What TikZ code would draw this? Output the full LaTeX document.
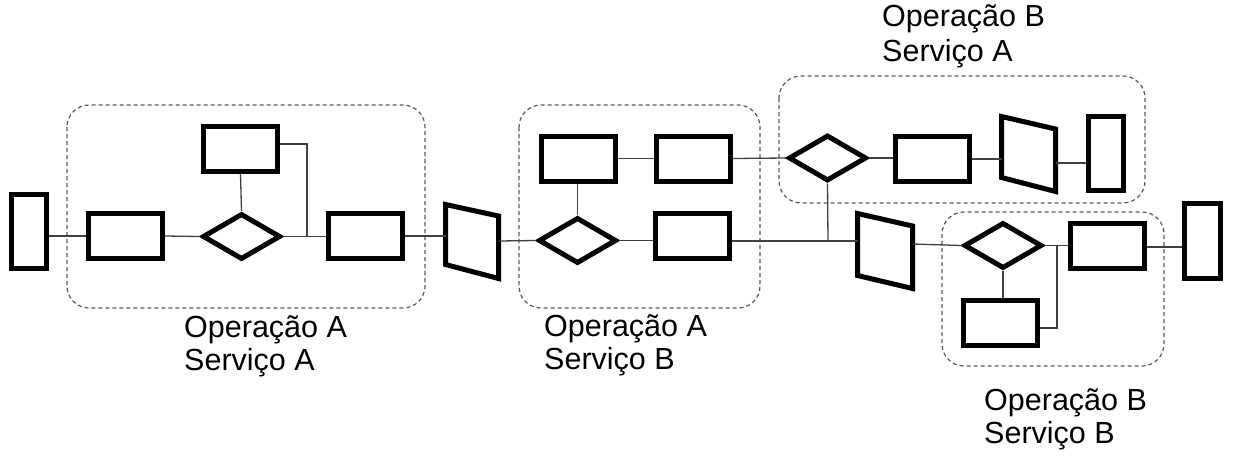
\documentclass[tikz,border=0pt]{standalone}
\usepackage{fontspec}
\setmainfont{Liberation Sans}
\usetikzlibrary{shapes.geometric}
\begin{document}
\begin{tikzpicture}[x=1pt,y=-1pt,
  box/.style={draw=black,line width=5pt,fill=white,inner sep=0pt,minimum width=74pt,minimum height=45pt},
  tallbox/.style={box,minimum width=35pt,minimum height=74pt},
  dec/.style={draw=black,line width=5pt,fill=white,diamond,inner sep=0pt,minimum width=78pt,minimum height=46pt},
  trap/.style={draw=black,line width=5pt,fill=white,line join=miter},
  link/.style={draw=black!75,line width=1.3pt},
  group/.style={draw=black!65,line width=1.2pt,dash pattern=on 4pt off 3pt,rounded corners=22pt},
  lab/.style={anchor=base west,inner sep=0pt,font=\fontsize{30.5}{33}\selectfont}
]
\useasboundingbox (0,0) rectangle (1233,455);
% groups
\draw[group] (67,105) rectangle (425,308);
\draw[group] (519,105) rectangle (760,308);
\draw[group] (779,76) rectangle (1145,203);
\draw[group] (942,212) rectangle (1164,366);

% nodes
\node[tallbox] (r1) at (29,231.5) {};
\node[box] (r2) at (125,236) {};
\node[box] (rt) at (240.5,149) {};
\node[dec] (d1) at (241.5,236.5) {};
\node[box] (r3) at (365.5,236) {};
\draw[trap] (445.5,204.5) -- (498.5,216) -- (498.5,278.5) -- (445.5,264.5) -- cycle;
\coordinate (t1w) at (445.5,235);
\coordinate (t1e) at (498.5,241);
\node[box] (r4) at (578.5,158.5) {};
\node[box] (r5) at (693.5,158.5) {};
\node[dec] (d2) at (577.5,240.5) {};
\node[box] (r6) at (692,236) {};
\node[dec] (d3) at (827.5,158) {};
\node[box] (r7) at (932.5,158.5) {};
\draw[trap] (1001.5,116.5) -- (1055.5,129) -- (1055.5,191.5) -- (1001.5,177.5) -- cycle;
\coordinate (t2w) at (1001.5,159);
\coordinate (t2e) at (1055.5,163);
\node[tallbox] (r8) at (1106,153.5) {};
\draw[trap] (857.5,213.5) -- (912.5,226) -- (912.5,288.5) -- (857.5,275.5) -- cycle;
\coordinate (t3w) at (857.5,241);
\coordinate (t3e) at (912.5,244);
\node[dec] (d4) at (1003,245.5) {};
\node[box] (r9) at (1107,246) {};
\node[box] (r10) at (1000,323) {};
\node[tallbox,minimum width=36pt,minimum height=75pt] (r11) at (1202.5,241) {};

% junctions
\coordinate (j1) at (307,236.5);
\coordinate (j2) at (828,241);
\coordinate (j3) at (1057,246);

% connectors
\draw[link] (r1.east |- r2.west) -- (r2.west);
\draw[link] (r2.east) -- (d1.west);
\draw[link] (rt.south) -- (d1.north);
\draw[link] (d1.east) -- (r3.west |- d1.east);
\draw[link] ([yshift=5pt]rt.east) -| (j1);
\draw[link] (r3.east) -- (r3.east -| t1w);
\draw[link] (t1e) -- (d2.west);
\draw[link] (r4.south -| d2.north) -- (d2.north);
\draw[link] (r4.east) -- (r5.west);
\draw[link] (r5.east) -- (d3.west);
\draw[link] (d2.east) -- (r6.west |- d2.east);
\draw[link] (r6.east |- t3w) -- (t3w);
\draw[link] (d3.south) -- (j2);
\draw[link] (d3.east) -- (r7.west |- d3.east);
\draw[link] (r7.east |- t2w) -- (t2w);
\draw[link] (t2e) -- (r8.west |- t2e);
\draw[link] (t3e) -- (d4.west);
\draw[link] (d4.east) -- (r9.west |- d4.east);
\draw[link] (d4.south) -- (d4.south |- r10.north);
\draw[link] ([yshift=-5pt]r10.east) -| (j3);
\draw[link] (r9.east |- 0,247) -- (r11.west |- 0,247);

% labels
\node[lab] (la1) at (184,337) {Operação A};
\node[lab] (la2) at (184,370) {Serviço A};
\node[lab] (lb1) at (544,336) {Operação A};
\node[lab] (lb2) at (544,369) {Serviço B};
\node[lab] (lc1) at (882,27) {Operação B};
\node[lab] (lc2) at (882,61) {Serviço A};
\node[lab] (ld1) at (984,410) {Operação B};
\node[lab] (ld2) at (984,443) {Serviço B};
\end{tikzpicture}
\end{document}
